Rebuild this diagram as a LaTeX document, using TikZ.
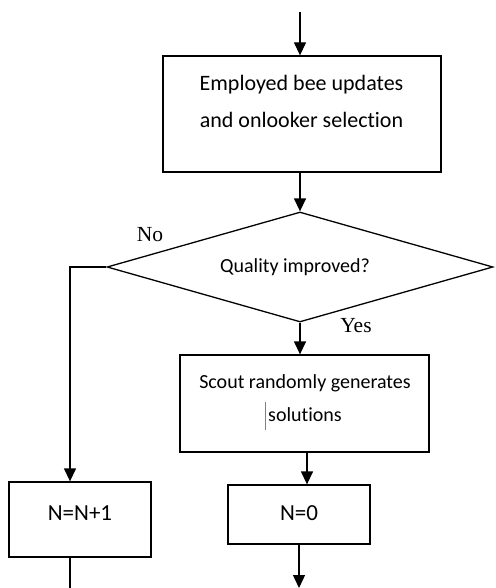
\documentclass[tikz,border=0pt]{standalone}
\usepackage{fontspec}
\setmainfont{Carlito}[Ligatures=NoCommon]
\newfontfamily\serifl{Liberation Serif}
\usetikzlibrary{arrows.meta,shapes.geometric}
\begin{document}
\begin{tikzpicture}[x=1pt,y=-1pt,
 line width=1.3pt,
 box/.style={draw, rectangle, inner sep=0pt},
 txt/.style={align=center, inner sep=0pt},
 arr/.style={-{Triangle[length=13pt,width=12pt]}},
 lbl/.style={inner sep=0pt, font=\serifl\fontsize{21.5}{24}\selectfont},
]
\useasboundingbox (0,0) rectangle (495,588);
% boxes
\node[box, minimum width=278pt, minimum height=116pt] (b1) at (302,114) {};
\node[txt, font=\fontsize{22}{37}\selectfont] (t1) at (301.5,101.5) {Employed bee updates\\and onlooker selection};
\node[draw, diamond, minimum width=386pt, minimum height=110pt, inner sep=0pt] (d) at (300,267) {};
\node[txt, font=\fontsize{20}{24}\selectfont] (td) at (295,267) {Quality improved?};
\node[box, minimum width=249pt, minimum height=97pt] (s) at (304.5,403.5) {};
\node[txt, font=\fontsize{20}{33}\selectfont] (ts) at (305,398.5) {Scout randomly generates\\solutions};
\node[box, minimum width=142pt, minimum height=59pt] (z) at (299,514.5) {};
\node[txt, font=\fontsize{23}{26}\selectfont] (tz) at (299,513) {N=0};
\node[box, minimum width=142pt, minimum height=75pt] (n1) at (80,519.5) {};
\node[txt, font=\fontsize{23}{26}\selectfont] (tn) at (80,513) {N=N+1};
% labels
\node[lbl] (no) at (150,235) {No};
\node[lbl] (yes) at (356,326) {Yes};
% stray cursor mark
\draw[line width=0.6pt, gray] (265,402) -- (265,430);
% coordinates
\coordinate (top) at (300,12);
\coordinate (nl) at (70,267);
\coordinate (zend) at (299,588);
\coordinate (nend) at (70,588);
% connectors
\draw[arr] (top) -- (top |- b1.north);
\draw[arr] (d.north |- b1.south) -- (d.north);
\draw[arr] (d.west) -- (nl) -- (nl |- n1.north);
\draw[arr] (d.south) -- (d.south |- s.north);
\draw[arr] (s.south -| 307,0) -- (z.north -| 307,0);
\draw[arr] (z.south) -- (zend);
\draw (nl |- n1.south) -- (nend);
\end{tikzpicture}
\end{document}
